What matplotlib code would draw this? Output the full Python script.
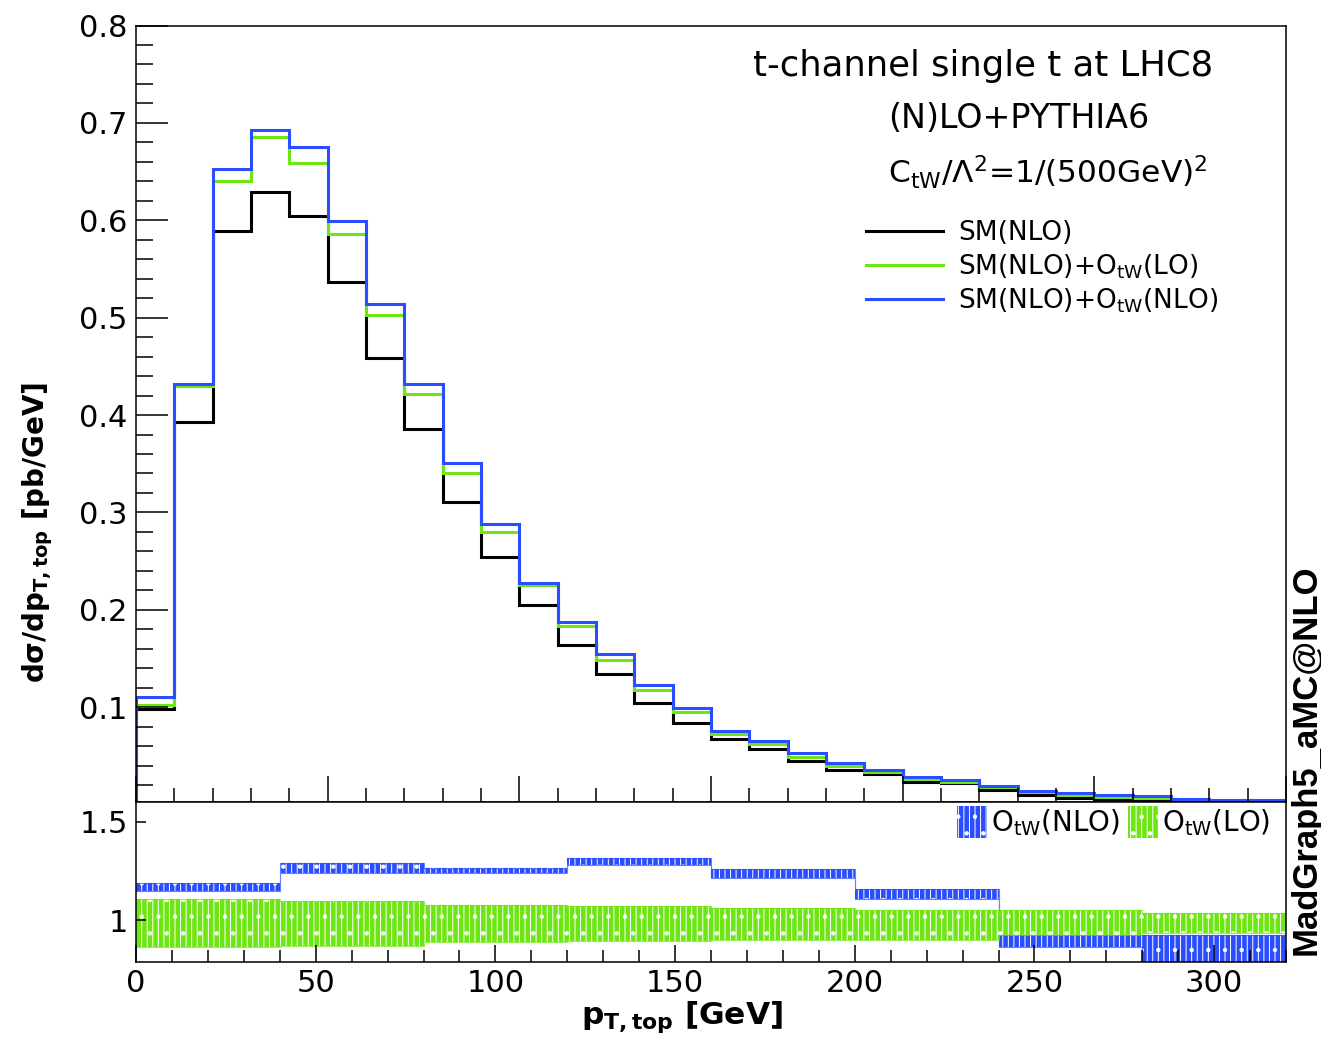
import numpy as np
import matplotlib
matplotlib.use("Agg")
import matplotlib.pyplot as plt
from matplotlib.patches import Patch
from matplotlib.lines import Line2D
from matplotlib.ticker import MultipleLocator

plt.rcParams['font.family'] = ['DejaVu Sans']
plt.rcParams['mathtext.fontset'] = 'dejavusans'
plt.rcParams['hatch.linewidth'] = 0.7

# binning (30 bins up to 320 GeV; ratio in 8 bins of 40 GeV)
edges = np.linspace(0, 320, 31)
ratio_edges = [0, 40, 80, 120, 160, 200, 240, 280, 320]

# dsigma/dpT [pb/GeV]
sm_nlo = [0.098, 0.393, 0.589, 0.629, 0.604, 0.537, 0.459, 0.386, 0.311, 0.254,
          0.205, 0.164, 0.134, 0.104, 0.084, 0.067, 0.057, 0.045, 0.036, 0.031,
          0.023, 0.022, 0.015, 0.010, 0.007, 0.006, 0.005, 0.004, 0.004, 0.003]
sm_otw_lo = [0.102, 0.430, 0.640, 0.685, 0.659, 0.586, 0.503, 0.422, 0.341, 0.280,
             0.225, 0.183, 0.149, 0.118, 0.095, 0.073, 0.062, 0.049, 0.040, 0.034,
             0.026, 0.023, 0.018, 0.013, 0.010, 0.008, 0.007, 0.005, 0.004, 0.004]
sm_otw_nlo = [0.111, 0.432, 0.653, 0.693, 0.675, 0.599, 0.514, 0.432, 0.351, 0.288,
              0.228, 0.188, 0.155, 0.123, 0.099, 0.076, 0.065, 0.053, 0.043, 0.036,
              0.028, 0.025, 0.019, 0.014, 0.012, 0.010, 0.009, 0.006, 0.005, 0.005]

# ratio bands: central value and half width
nlo_ratio = [1.170, 1.265, 1.254, 1.298, 1.236, 1.132, 0.894, 0.840]
nlo_ratio_err = [0.020, 0.024, 0.013, 0.017, 0.024, 0.025, 0.030, 0.085]
lo_ratio = [0.985, 0.984, 0.983, 0.982, 0.979, 0.975, 0.987, 0.985]
lo_ratio_err = [0.121, 0.115, 0.094, 0.088, 0.081, 0.076, 0.064, 0.052]

black = 'black'
green = '#6ee614'
blue = '#2a4dff'
hatch = '|||.'

W, H = 1321, 1064
fig = plt.figure(figsize=(W / 100, H / 100), dpi=100)
left, right = 136 / W, 1286 / W
ax = fig.add_axes([left, 1 - 801.7 / H, right - left, (801.7 - 25.5) / H])
axr = fig.add_axes([left, 1 - 961.7 / H, right - left, 160 / H])

ax.stairs(sm_nlo, edges, color=black, lw=2.2)
ax.stairs(sm_otw_lo, edges, color=green, lw=2.2)
ax.stairs(sm_otw_nlo, edges, color=blue, lw=2.2)

ax.set_xlim(0, 320)
ax.set_ylim(0.003, 0.8)
ax.xaxis.set_major_locator(MultipleLocator(160 / 3))
ax.xaxis.set_minor_locator(MultipleLocator(32 / 3))
ax.yaxis.set_major_locator(MultipleLocator(0.1))
ax.yaxis.set_minor_locator(MultipleLocator(0.02))
ax.tick_params(axis='x', which='both', direction='in', labelbottom=False)
ax.tick_params(axis='x', which='major', length=19, width=1.1)
ax.tick_params(axis='x', which='minor', length=10, width=1.1)
ax.tick_params(axis='y', which='major', direction='in', length=23, width=1.1,
               labelsize=22, pad=6)
ax.tick_params(axis='y', which='minor', direction='in', length=12, width=1.1)
ax.set_yticks([0.1, 0.2, 0.3, 0.4, 0.5, 0.6, 0.7, 0.8])
ax.set_yticklabels(['0.1', '0.2', '0.3', '0.4', '0.5', '0.6', '0.7', '0.8'])
for sp in ax.spines.values():
    sp.set_linewidth(1.1)

ax.set_ylabel(r'd$\mathbf{\sigma}$/dp$_{\mathbf{T,top}}$ [pb/GeV]', fontsize=20,
              fontweight='bold')
ax.yaxis.set_label_coords(-0.07, 0.347)

ax.text(1213 / W, 1 - 66 / H, 't-channel single t at LHC8', transform=fig.transFigure,
        ha='right', va='center', fontsize=25.5)
ax.text(888 / W, 1 - 119 / H, '(N)LO+PYTHIA6', transform=fig.transFigure,
        ha='left', va='center', fontsize=24)
ax.text(888 / W, 1 - 172 / H, r'C$_{\mathrm{tW}}$/$\Lambda^{2}$=1/(500GeV)$^{2}$',
        transform=fig.transFigure, ha='left', va='center', fontsize=22.5)

handles = [Line2D([], [], color=black, lw=2.2),
           Line2D([], [], color=green, lw=2.2),
           Line2D([], [], color=blue, lw=2.2)]
labels = ['SM(NLO)', r'SM(NLO)+O$_{\mathrm{tW}}$(LO)', r'SM(NLO)+O$_{\mathrm{tW}}$(NLO)']
ax.legend(handles, labels, loc='upper left', bbox_to_anchor=(866 / W, 1 - 220 / H),
          bbox_transform=fig.transFigure, frameon=False, fontsize=19,
          handlelength=2.9, handletextpad=0.6, labelspacing=0.23, borderpad=0,
          borderaxespad=0)

# ratio panel
for c, e, col in [(nlo_ratio, nlo_ratio_err, blue), (lo_ratio, lo_ratio_err, green)]:
    up = np.array(c) + np.array(e)
    lo = np.array(c) - np.array(e)
    axr.stairs(up, ratio_edges, baseline=lo, fill=True, facecolor=col,
               edgecolor='white', hatch=hatch, lw=0)
    axr.stairs(up, ratio_edges, baseline=lo, fill=True, facecolor='none',
               edgecolor=col, lw=0.8, alpha=0.7)

axr.set_xlim(0, 320)
axr.set_ylim(0.788, 1.602)
axr.xaxis.set_major_locator(MultipleLocator(50))
axr.xaxis.set_minor_locator(MultipleLocator(10))
axr.set_yticks([1, 1.5])
axr.set_yticklabels(['1', '1.5'])
axr.tick_params(axis='x', which='major', direction='in', length=12, width=1.1,
                labelsize=22, pad=5)
axr.tick_params(axis='x', which='minor', direction='in', length=9, width=1.1)
axr.tick_params(axis='y', which='major', direction='in', length=7, width=1.1,
                labelsize=22, pad=6)
for sp in axr.spines.values():
    sp.set_linewidth(1.1)

axr.set_xlabel(r'p$_{\mathbf{T,top}}$ [GeV]', fontsize=22.5, fontweight='bold')
axr.xaxis.set_label_coords(0.475, -0.235)
axr.xaxis.label.set_va('top')

rh = [Patch(facecolor=blue, edgecolor='white', hatch=hatch, lw=0),
      Patch(facecolor=green, edgecolor='white', hatch=hatch, lw=0)]
axr.legend(rh, [r'O$_{\mathrm{tW}}$(NLO)', r'O$_{\mathrm{tW}}$(LO)'], ncol=2,
           loc='upper right', bbox_to_anchor=(1270 / W, 1 - 806 / H),
           bbox_transform=fig.transFigure, frameon=False, fontsize=20,
           handlelength=1.08, handleheight=1.4, handletextpad=0.15,
           columnspacing=0.28, borderpad=0, borderaxespad=0)

fig.text(1290 / W, 1 - 955 / H, 'MadGraph5_aMC@NLO', rotation=90, ha='left',
         va='bottom', fontsize=25, fontweight='bold', family='Liberation Sans')

fig.savefig('out.png', dpi=100)
